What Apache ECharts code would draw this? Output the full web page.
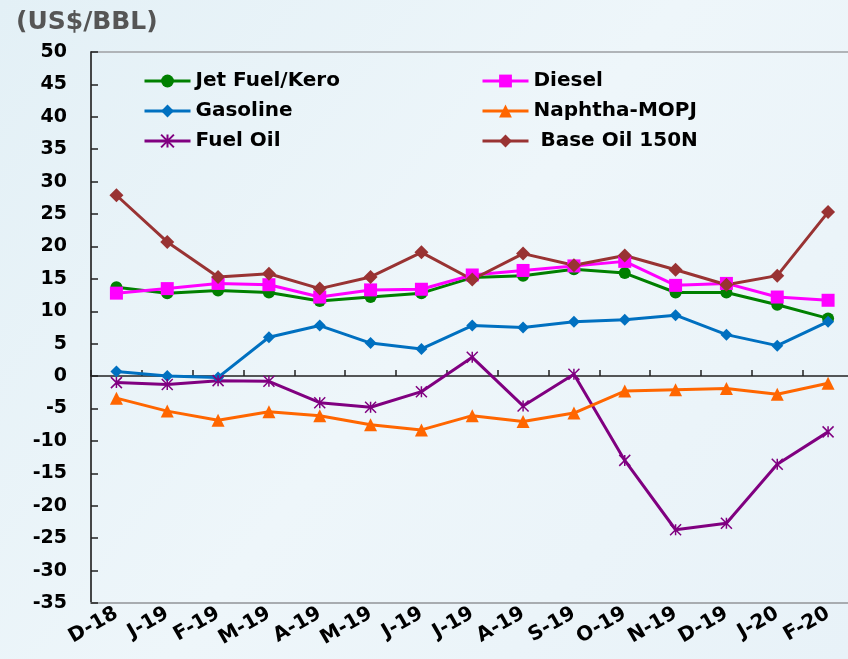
<!DOCTYPE html>
<html>
<head>
<meta charset="utf-8">
<script src="https://cdn.jsdelivr.net/npm/echarts@6/dist/echarts.min.js"></script>
<style>html,body{margin:0;padding:0;}#c{width:848px;height:659px;}</style>
</head>
<body>
<div id="c"></div>
<script>
var categories = ['D-18','J-19','F-19','M-19','A-19','M-19','J-19','J-19','A-19','S-19','O-19','N-19','D-19','J-20','F-20'];
var jetFuel  = [13.7,12.8,13.2,12.9,11.6,12.2,12.8,15.2,15.5,16.5,15.9,12.9,12.9,11.0,8.9];
var diesel   = [12.8,13.5,14.3,14.1,12.2,13.3,13.4,15.6,16.3,17.0,17.7,14.0,14.3,12.2,11.7];
var gasoline = [0.7,0.0,-0.2,6.0,7.8,5.1,4.2,7.8,7.5,8.4,8.7,9.4,6.4,4.7,8.4];
var naphtha  = [-3.4,-5.4,-6.8,-5.5,-6.1,-7.5,-8.3,-6.1,-7.0,-5.7,-2.3,-2.1,-1.9,-2.8,-1.1];
var fuelOil  = [-1.0,-1.3,-0.7,-0.8,-4.1,-4.8,-2.4,2.9,-4.6,0.3,-13.0,-23.7,-22.7,-13.6,-8.6];
var baseOil  = [27.9,20.7,15.3,15.8,13.5,15.3,19.1,14.9,18.9,17.1,18.6,16.4,14.1,15.5,25.3];
var yTicks = {min:-35, max:50, step:5};
var unitLabel = '(US$/BBL)';

var FONT = 'DejaVu Sans';
var chart = echarts.init(document.getElementById('c'));
function mk(name, data, color, symbol, size, extra){
  var s = {
    name: name, type: 'line', data: data, xAxisIndex: 0,
    symbol: symbol, symbolSize: size, showSymbol: true,
    lineStyle: {color: color, width: 3},
    itemStyle: {color: color},
    emphasis: {disabled: true},
    z: 3
  };
  if (extra) Object.assign(s, extra);
  return s;
}
var star = 'path://M0,0L10,10M10,0L0,10M5,0L5,10';
var legendCommon = {orient: 'vertical', top: 66, itemWidth: 46, itemHeight: 16, itemGap: 10,
  lineStyle: {width: 3},
  textStyle: {fontFamily: FONT, fontWeight: 'bold', fontSize: 20, color: '#000', lineHeight: 20}};
chart.setOption({
  backgroundColor: {type:'linear', x:0, y:0, x2:1, y2:1, colorStops:[{offset:0,color:'#e3f0f6'},{offset:0.5,color:'#eef6fa'},{offset:1,color:'#e8f2f8'}]},
  animation: false,
  title: {text: unitLabel, left: 11, top: 5, textStyle: {fontFamily: FONT, fontWeight: 'bold', fontSize: 25, color: '#555555'}},
  grid: {left: 91, top: 52, right: -5.5, bottom: 56, outerBoundsMode: 'none', containLabel: false, show: true, borderColor: '#b0b4b8', borderWidth: 2, backgroundColor: 'transparent'},
  legend: [
    Object.assign({left: 138, data: ['Jet Fuel/Kero','Gasoline','Fuel Oil']}, legendCommon),
    Object.assign({left: 476, data: ['Diesel','Naphtha-MOPJ',' Base Oil 150N']}, legendCommon)
  ],
  xAxis: [
    {type: 'category', data: categories, boundaryGap: true, position: 'bottom',
     axisLine: {onZero: false, lineStyle: {color: '#a8acb0', width: 2}},
     axisTick: {show: false},
     axisLabel: {rotate: 30, margin: 9, interval: 0, fontFamily: FONT, fontWeight: 'bold', fontSize: 20, color: '#000'}},
    {type: 'category', data: categories, boundaryGap: true, position: 'bottom',
     axisLine: {onZero: true, lineStyle: {color: '#222', width: 1.5}},
     axisTick: {show: true, inside: true, length: 6, interval: 0, lineStyle: {color: '#222', width: 1.5}},
     axisLabel: {show: false}}
  ],
  yAxis: {type: 'value', min: yTicks.min, max: yTicks.max, interval: yTicks.step,
    axisLine: {show: true, onZero: false, lineStyle: {color: '#222', width: 1.5}},
    axisTick: {show: true, inside: true, length: 7, lineStyle: {color: '#222', width: 1.5}},
    splitLine: {show: false},
    axisLabel: {margin: 24, fontFamily: FONT, fontWeight: 'bold', fontSize: 19, color: '#000'}},
  series: [
    mk('Jet Fuel/Kero', jetFuel, '#008000', 'circle', 12),
    mk('Gasoline', gasoline, '#0070c0', 'diamond', 12),
    mk('Fuel Oil', fuelOil, '#800080', star, 11, {itemStyle: {color: '#800080', borderColor: '#800080', borderWidth: 1.5}}),
    mk('Diesel', diesel, '#ff00ff', 'rect', 13),
    mk('Naphtha-MOPJ', naphtha, '#ff6600', 'triangle', 13),
    mk(' Base Oil 150N', baseOil, '#993333', 'diamond', 14)
  ]
});
</script>
</body>
</html>
